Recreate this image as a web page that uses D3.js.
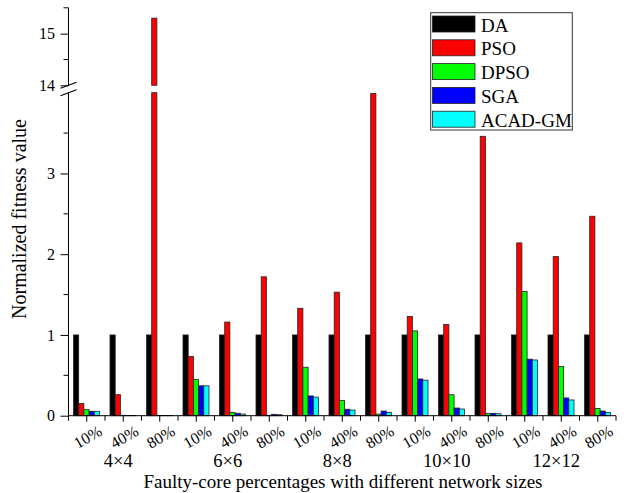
<!DOCTYPE html>
<html>
<head>
<meta charset="utf-8">
<script src="https://cdn.jsdelivr.net/npm/d3@7/dist/d3.min.js"></script>
<style>
  html, body { margin: 0; padding: 0; background: #fff; }
  svg { display: block; }
  svg text { font-family: "Liberation Serif", "Times New Roman", serif; }
</style>
</head>
<body>
<svg id="chart" width="630" height="493"></svg>
<script>
// Network sizes, fault percentages and algorithms
const sizes = ["4×4", "6×6", "8×8", "10×10", "12×12"];
const percents = ["10%", "40%", "80%"];
const algorithms = ["DA", "PSO", "DPSO", "SGA", "ACAD-GM"];
const colors = ["#000000", "#ff0000", "#00ff00", "#0000ff", "#00ffff"];

// Normalized fitness values, one entry per (size, percentage) pair
const DA   = [1, 1, 1, 1, 1, 1, 1, 1, 1, 1, 1, 1, 1, 1, 1];
const PSO  = [0.15, 0.26, 15.3, 0.735, 1.16, 1.72, 1.33, 1.53, 3.99, 1.23, 1.13, 3.46, 2.14, 1.97, 2.47];
const DPSO = [0.075, 0.005, 0.003, 0.45, 0.04, 0.005, 0.60, 0.19, 0.02, 1.05, 0.26, 0.025, 1.54, 0.61, 0.09];
const SGA  = [0.055, 0.003, 0.002, 0.37, 0.03, 0.017, 0.245, 0.08, 0.058, 0.455, 0.095, 0.03, 0.70, 0.22, 0.058];
const ACAD = [0.055, 0.002, 0.002, 0.37, 0.02, 0.012, 0.23, 0.07, 0.04, 0.44, 0.083, 0.025, 0.69, 0.195, 0.04];

// Y axis tick values for the two segments of the broken axis
const lowerTicks = [0, 1, 2, 3];
const upperTicks = [14, 15];

const seriesValues = [DA, PSO, DPSO, SGA, ACAD];
const categories = [];
sizes.forEach(s => percents.forEach(p => categories.push({ size: s, pct: p })));

const serif = "Liberation Serif, Times New Roman, serif";
const svg = d3.select("#chart");

// Scales
const x0 = d3.scaleBand().domain(d3.range(categories.length)).range([68.5, 616]).padding(0);
const x1 = d3.scaleBand().domain(algorithms).range([5, 31]).padding(0);
const yLow = d3.scaleLinear().domain([0, 4]).range([415.7, 92.7]);
const yHigh = d3.scaleLinear().domain([14, 15.5]).range([85.3, 7.8]);
const lowMax = 4, highMin = 14;

// Bars (values above the break are split across the two segments)
const barData = [];
seriesValues.forEach((vals, si) => {
  vals.forEach((v, ci) => {
    const bx = x0(ci) + x1(algorithms[si]);
    const w = x1.bandwidth();
    barData.push({ x: bx, w, y0: yLow(0), y1: yLow(Math.min(v, lowMax)), c: colors[si] });
    if (v > highMin) {
      barData.push({ x: bx, w, y0: yHigh(highMin), y1: yHigh(v), c: colors[si] });
    }
  });
});

svg.append("g").selectAll("rect").data(barData).join("rect")
  .attr("x", d => d.x)
  .attr("y", d => d.y1)
  .attr("width", d => d.w)
  .attr("height", d => Math.max(0, d.y0 - d.y1))
  .attr("fill", d => d.c)
  .attr("stroke", "#222")
  .attr("stroke-width", 0.8);

// Y axis: lower segment
const axisX = 68.5;
const gLow = svg.append("g").attr("transform", `translate(${axisX},0)`);
gLow.call(d3.axisLeft(yLow).tickValues(lowerTicks).tickSize(8).tickFormat(d3.format("d")));
gLow.select(".domain").remove();
gLow.append("g").selectAll("line").data([0.5, 1.5, 2.5, 3.5]).join("line")
  .attr("x1", -5).attr("x2", 0).attr("y1", d => yLow(d)).attr("y2", d => yLow(d))
  .attr("stroke", "#000");
gLow.append("line").attr("x1", 0).attr("x2", 0).attr("y1", yLow(0)).attr("y2", yLow(lowMax))
  .attr("stroke", "#000");

// Y axis: upper segment
const gHigh = svg.append("g").attr("transform", `translate(${axisX},0)`);
gHigh.call(d3.axisLeft(yHigh).tickValues(upperTicks).tickSize(8).tickFormat(d3.format("d")));
gHigh.select(".domain").remove();
gHigh.append("g").selectAll("line").data([14.5, 15.5]).join("line")
  .attr("x1", -5).attr("x2", 0).attr("y1", d => yHigh(d)).attr("y2", d => yHigh(d))
  .attr("stroke", "#000");
gHigh.append("line").attr("x1", 0).attr("x2", 0).attr("y1", yHigh(highMin)).attr("y2", yHigh(15.5))
  .attr("stroke", "#000");

[gLow, gHigh].forEach(g => {
  g.attr("font-family", serif);
  g.selectAll(".tick text").attr("x", -13.5).attr("font-size", 16)
    .attr("font-family", serif).attr("fill", "#000");
  g.selectAll(".tick line").attr("stroke", "#000");
});

// Break marks on the y axis
[yHigh(highMin), yLow(lowMax)].forEach(y => {
  svg.append("line")
    .attr("x1", axisX - 8).attr("y1", y + 3)
    .attr("x2", axisX + 8).attr("y2", y - 3)
    .attr("stroke", "#000").attr("stroke-width", 1.2);
});

// X axis line with ticks at category centres and boundaries
const xAxisY = yLow(0);
svg.append("line").attr("x1", 68.5).attr("x2", 616).attr("y1", xAxisY).attr("y2", xAxisY)
  .attr("stroke", "#000");
const boundaries = d3.range(categories.length + 1).map(i => i === categories.length ? x0.range()[1] : x0(i));
svg.append("g").selectAll("line").data(boundaries).join("line")
  .attr("x1", d => d).attr("x2", d => d).attr("y1", xAxisY).attr("y2", xAxisY + 5)
  .attr("stroke", "#000");
const centers = categories.map((c, i) => x0(i) + x0.bandwidth() / 2);
svg.append("g").selectAll("line").data(centers).join("line")
  .attr("x1", d => d).attr("x2", d => d).attr("y1", xAxisY).attr("y2", xAxisY + 6)
  .attr("stroke", "#000");

// Rotated percentage labels
svg.append("g").selectAll("text").data(categories).join("text")
  .attr("transform", (d, i) => `translate(${centers[i] + 1},${437}) rotate(-30)`)
  .attr("text-anchor", "middle")
  .attr("dominant-baseline", "central")
  .attr("font-family", serif)
  .attr("font-size", 16)
  .attr("fill", "#000")
  .text(d => d.pct);

// Network size labels beneath each group of three
svg.append("g").selectAll("text").data(sizes).join("text")
  .attr("x", (d, i) => centers[i * 3 + 1] - 5)
  .attr("y", 467)
  .attr("text-anchor", "middle")
  .attr("font-family", serif)
  .attr("font-size", 18.5)
  .attr("fill", "#000")
  .text(d => d);

// Axis titles
svg.append("text")
  .attr("x", 343).attr("y", 488)
  .attr("text-anchor", "middle")
  .attr("font-family", serif)
  .attr("font-size", 19)
  .attr("fill", "#000")
  .text("Faulty-core percentages with different network sizes");

svg.append("text")
  .attr("transform", "translate(26,219) rotate(-90)")
  .attr("text-anchor", "middle")
  .attr("font-family", serif)
  .attr("font-size", 20)
  .attr("fill", "#000")
  .text("Normalized fitness value");

// Legend
const legend = svg.append("g");
legend.append("rect")
  .attr("x", 430.7).attr("y", 12.7).attr("width", 141.6).attr("height", 117.3)
  .attr("fill", "#fff").attr("stroke", "#333").attr("stroke-width", 1);
const rows = legend.selectAll("g.row").data(algorithms).join("g")
  .attr("class", "row")
  .attr("transform", (d, i) => `translate(432.5,${16 + i * 23.8})`);
rows.append("rect")
  .attr("width", 42.5).attr("height", 16)
  .attr("fill", (d, i) => colors[i])
  .attr("stroke", "#222").attr("stroke-width", 0.8);
rows.append("text")
  .attr("x", 48.5).attr("y", 15.5)
  .attr("font-family", serif)
  .attr("font-size", 19)
  .attr("fill", "#000")
  .text(d => d);
</script>
</body>
</html>
